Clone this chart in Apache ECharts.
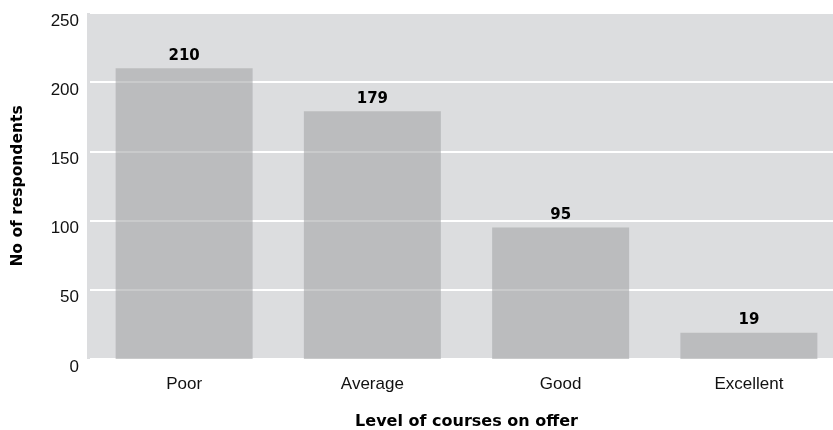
<!DOCTYPE html>
<html>
<head>
<meta charset="utf-8">
<script src="https://cdn.jsdelivr.net/npm/echarts@6/dist/echarts.min.js"></script>
<style>
  html, body { margin: 0; padding: 0; background: #fff; }
  #chart { width: 833px; height: 430px; }
</style>
</head>
<body>
<div id="chart"></div>
<script>
// data
var levels = ['Poor', 'Average', 'Good', 'Excellent'];
var respondents = [210, 179, 95, 19];
var yTicks = [0, 50, 100, 150, 200, 250];

var myChart = echarts.init(document.getElementById('chart'));

myChart.setOption({
  animation: false,
  textStyle: { fontFamily: 'Liberation Sans, Arial, sans-serif' },
  grid: { left: 90, top: 13, bottom: 71, right: -10, containLabel: false, outerBoundsMode: 'none' },
  graphic: [{
    type: 'rect',
    z: -10,
    shape: { x: 87, y: 13, width: 746, height: 346 },
    style: { fill: '#dcdddf' },
    silent: true
  }],
  xAxis: {
    type: 'category',
    data: levels,
    name: 'Level of courses on offer',
    nameLocation: 'middle',
    nameGap: 55,
    nameTextStyle: { fontFamily: 'DejaVu Sans', fontWeight: 'bold', fontSize: 16, color: '#000' },
    axisLine: { show: false },
    axisTick: { show: false },
    axisLabel: { fontSize: 17, color: '#111', margin: 17 }
  },
  yAxis: {
    type: 'value',
    min: yTicks[0],
    max: yTicks[yTicks.length - 1],
    interval: 50,
    name: 'No of respondents',
    nameLocation: 'middle',
    nameGap: 64,
    nameTextStyle: { fontFamily: 'DejaVu Sans', fontWeight: 'bold', fontSize: 15.5, color: '#000' },
    axisLine: { show: false },
    axisTick: { show: false },
    axisLabel: { fontSize: 17, color: '#111', margin: 11, verticalAlign: 'top', lineHeight: 16 },
    splitLine: { lineStyle: { color: '#ffffff', width: 2 } }
  },
  series: [{
    type: 'bar',
    data: respondents,
    barWidth: 137,
    itemStyle: { color: 'rgba(165,166,168,0.6)' },
    label: {
      show: true,
      position: 'top',
      distance: 5,
      fontFamily: 'DejaVu Sans',
      fontSize: 15,
      fontWeight: 'bold',
      color: '#000'
    }
  }]
});
</script>
</body>
</html>
